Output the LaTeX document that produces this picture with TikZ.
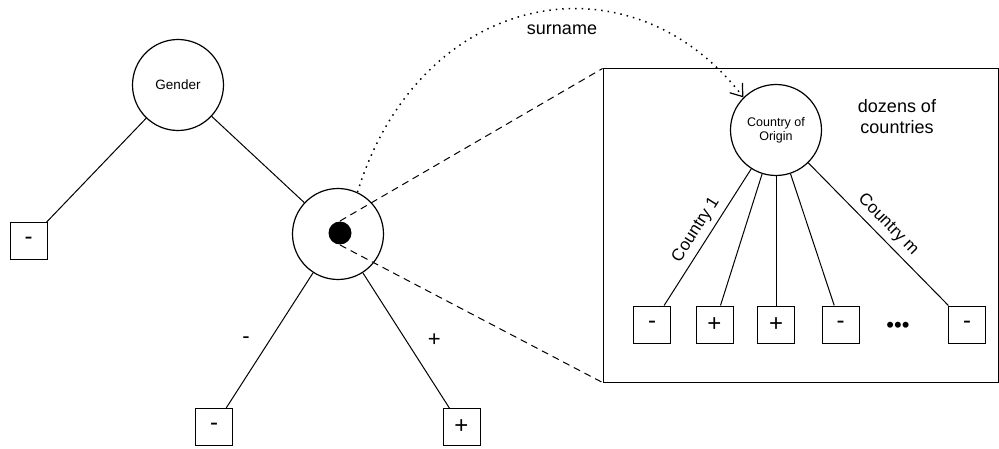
\documentclass[tikz,border=0pt]{standalone}
\usepackage{fontspec}
\setmainfont{Liberation Sans}
\usetikzlibrary{arrows.meta}

\begin{document}
\begin{tikzpicture}[x=1pt,y=-1pt,line width=1pt,
    leaf/.style={draw,minimum size=37pt,inner sep=0pt,font=\fontsize{24}{24}\selectfont},
    attr/.style={draw,circle,line width=1.2pt,minimum size=91pt,inner sep=0pt},
    lbl/.style={font=\fontsize{18}{21}\selectfont,align=center}]
    \useasboundingbox (0,0) rectangle (999,449);

    \node[attr,font=\fontsize{13.5}{13.5}\selectfont] (G) at (178,85) {Gender};
    \node[leaf] (L1) at (28.5,241) {-};
    \node[attr] (S) at (338,234) {};
    \node[circle,fill,minimum size=23pt,inner sep=0pt] (D) at (340,233) {};
    \node[leaf] (L2) at (214,427) {-};
    \node[leaf] (L3) at (461.5,427) {+};

    \node[draw,minimum width=395pt,minimum height=313pt,inner sep=0pt] (Z) at (800.5,225.5) {};
    \node[attr,font=\fontsize{12.5}{14}\selectfont,align=center] (C) at (776,130) {Country of\\Origin};
    \node[leaf] (C1) at (652,324.5) {-};
    \node[leaf] (C2) at (714.5,324.5) {+};
    \node[leaf] (C3) at (776,324.5) {+};
    \node[leaf] (C4) at (840.5,324.5) {-};
    \node[font=\fontsize{22}{22}\selectfont] (E) at (898,327) {•••};
    \node[leaf] (C5) at (967,324.5) {-};

    \node[lbl] (T1) at (562,30) {surname};
    \node[lbl] (T2) at (897,117) {dozens of\\countries};

    \draw (G) -- (L1);
    \draw (G) -- (S);
    \draw (S) -- node[midway,left=16pt,font=\fontsize{22}{22}\selectfont] {-} (L2);
    \draw (S) -- node[midway,right=18pt,font=\fontsize{22}{22}\selectfont] {+} (L3);

    \draw (C1) -- node[midway,sloped,above=2pt,font=\fontsize{17}{17}\selectfont] {Country 1} (C);
    \draw (C) -- (C2);
    \draw (C) -- (C3);
    \draw (C) -- (C4);
    \draw (C) -- node[midway,sloped,above=2pt,font=\fontsize{17}{17}\selectfont] {Country m} (C5);

    \draw[dash pattern=on 7pt off 5pt] (D.north) -- (Z.north west);
    \draw[dash pattern=on 7pt off 5pt] (D.south) -- (Z.south west);
    \draw[line width=1.5pt,dash pattern=on 1.5pt off 5pt,-{Straight Barb[length=11pt,width=16pt,line width=1.2pt]}]
        (S.65) .. controls (420,-10) and (630,-50) .. (C.135);
\end{tikzpicture}
\end{document}
